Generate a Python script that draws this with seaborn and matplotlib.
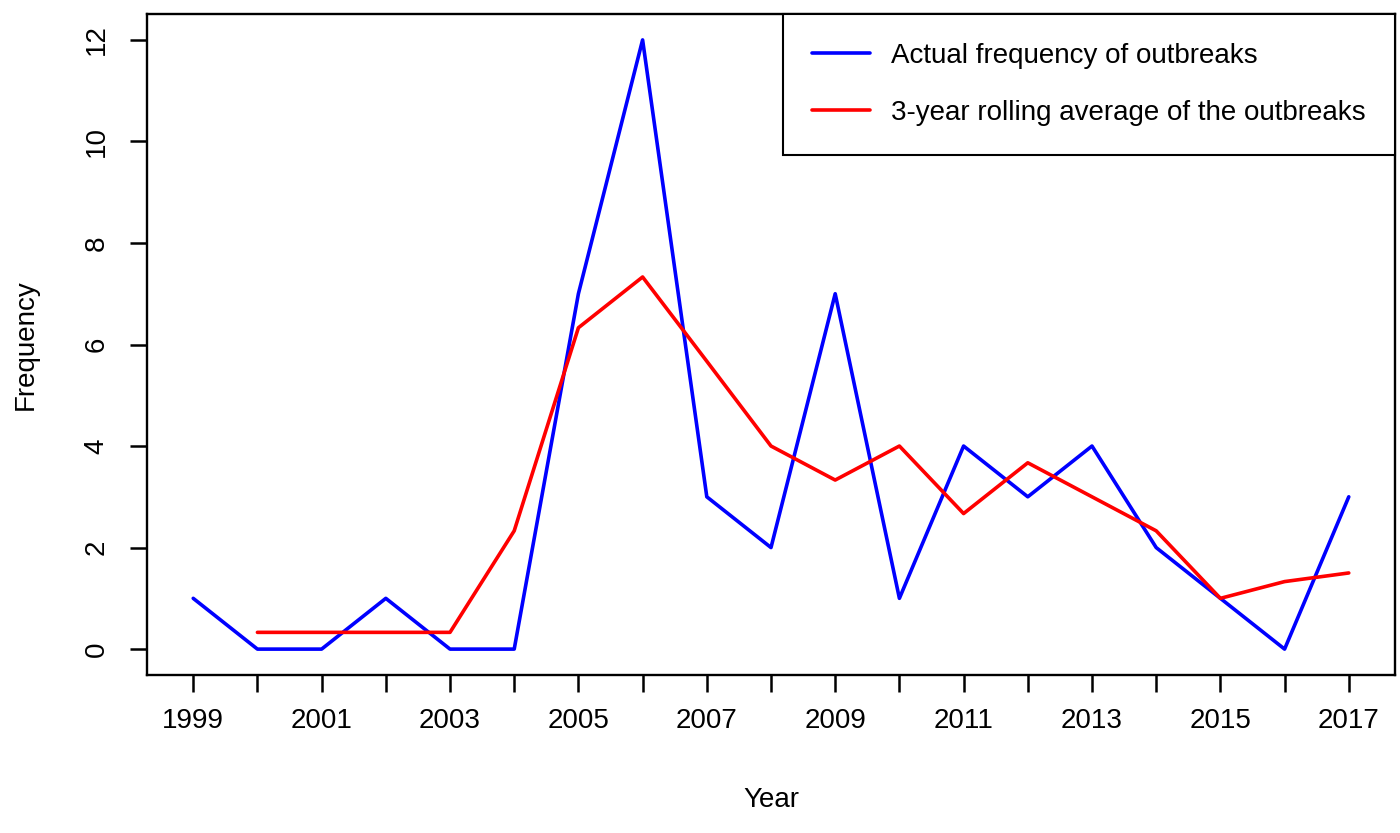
import matplotlib
matplotlib.use("Agg")
import matplotlib.pyplot as plt
import seaborn as sns
import pandas as pd

years = list(range(1999, 2018))
actual = [1, 0, 0, 1, 0, 0, 7, 12, 3, 2, 7, 1, 4, 3, 4, 2, 1, 0, 3]
roll_years = list(range(2000, 2018))
rolling = [0.33, 0.33, 0.33, 0.33, 2.33, 6.33, 7.33, 5.67, 4.0, 3.33, 4.0,
           2.67, 3.67, 3.0, 2.33, 1.0, 1.33, 1.5]
yticks = [0, 2, 4, 6, 8, 10, 12]
label_actual = "Actual frequency of outbreaks"
label_roll = "3-year rolling average of the outbreaks"

sns.set_theme(style="white")
plt.rcParams['font.family'] = ['Liberation Sans', 'DejaVu Sans']
plt.rcParams['text.color'] = 'black'
plt.rcParams['axes.labelcolor'] = 'black'

df1 = pd.DataFrame({"Year": years, "Frequency": actual})
df2 = pd.DataFrame({"Year": roll_years, "Frequency": rolling})

fig = plt.figure(figsize=(14, 8.33), dpi=100)
ax = fig.add_axes([147/1400, 1-675/833, (1395-147)/1400, (675-14)/833])

sns.lineplot(data=df1, x="Year", y="Frequency", color="#0000FF", linewidth=2.6,
             ax=ax, label=label_actual)
sns.lineplot(data=df2, x="Year", y="Frequency", color="#FF0000", linewidth=2.6,
             ax=ax, label=label_roll)

ax.set_xlim(1998.28, 2017.72)
ax.set_ylim(-0.51, 12.51)
ax.set_xticks(years)
ax.set_xticklabels([str(y) if (y - 1999) % 2 == 0 else "" for y in years])
ax.set_yticks(yticks)
ax.set_yticklabels([str(v) for v in yticks], rotation=90, va="center")
ax.tick_params(axis="both", direction="out", length=12, width=1.8,
               labelsize=20, colors="black", bottom=True, left=True)
ax.tick_params(axis="x", pad=12)
ax.tick_params(axis="y", pad=15)
for s in ax.spines.values():
    s.set_color("black")
    s.set_linewidth(1.7)
ax.set_xlabel("Year", fontsize=20, color="black", labelpad=38)
ax.set_ylabel("Frequency", fontsize=20, color="black", labelpad=32)

leg = ax.legend(loc="upper right", bbox_to_anchor=(1.0, 1.0), fontsize=20,
                frameon=True, fancybox=False, borderaxespad=0,
                handlelength=2.1, handletextpad=0.75, borderpad=1.05,
                labelspacing=1.1)
leg.get_frame().set_edgecolor("black")
leg.get_frame().set_linewidth(1.5)
leg.get_frame().set_alpha(1.0)
for t in leg.get_texts():
    t.set_color("black")

fig.savefig("out.png", dpi=100)
